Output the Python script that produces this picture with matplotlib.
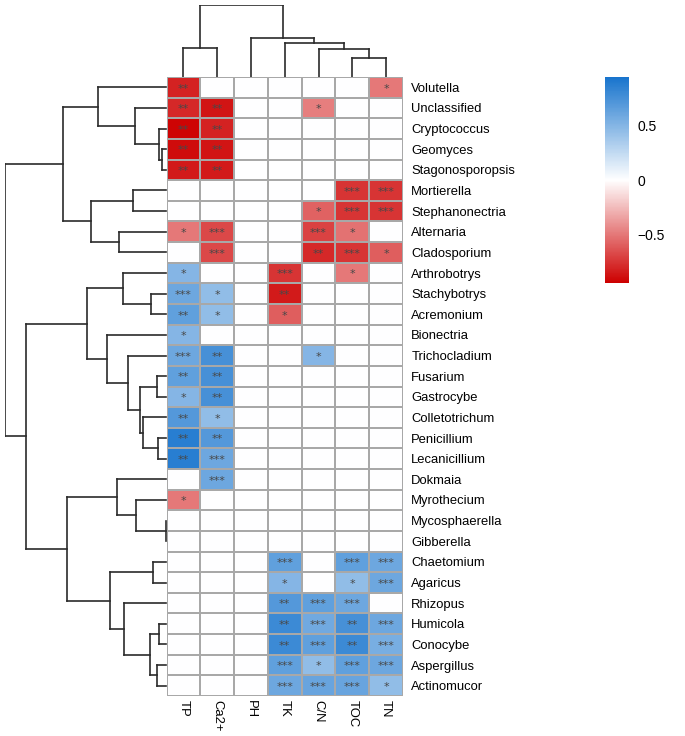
import numpy as np
import matplotlib
matplotlib.use("Agg")
import matplotlib.pyplot as plt
from matplotlib.colors import LinearSegmentedColormap

plt.rcParams['font.family'] = ['Liberation Sans', 'DejaVu Sans']

# ---------------- data ----------------
genera = ["Volutella", "Unclassified", "Cryptococcus", "Geomyces", "Stagonosporopsis",
          "Mortierella", "Stephanonectria", "Alternaria", "Cladosporium", "Arthrobotrys",
          "Stachybotrys", "Acremonium", "Bionectria", "Trichocladium", "Fusarium",
          "Gastrocybe", "Colletotrichum", "Penicillium", "Lecanicillium", "Dokmaia",
          "Myrothecium", "Mycosphaerella", "Gibberella", "Chaetomium", "Agaricus",
          "Rhizopus", "Humicola", "Conocybe", "Aspergillus", "Actinomucor"]
factors = ["TP", "Ca2+", "PH", "TK", "C/N", "TOC", "TN"]

# correlation values (non-significant shown as 0)
corr_TP  = [-0.82, -0.80, -0.93, -0.90, -0.85, 0, 0, -0.50, 0, 0.50,
            0.60, 0.65, 0.50, 0.60, 0.65, 0.50, 0.70, 0.88, 0.88, 0,
            -0.50, 0, 0, 0, 0, 0, 0, 0, 0, 0]
corr_Ca  = [0, -0.87, -0.82, -0.87, -0.85, 0, 0, -0.68, -0.68, 0,
            0.45, 0.45, 0, 0.75, 0.75, 0.75, 0.45, 0.70, 0.60, 0.60,
            0, 0, 0, 0, 0, 0, 0, 0, 0, 0]
corr_PH  = [0] * 30
corr_TK  = [0, 0, 0, 0, 0, 0, 0, 0, 0, -0.75,
            -0.85, -0.60, 0, 0, 0, 0, 0, 0, 0, 0,
            0, 0, 0, 0.65, 0.50, 0.70, 0.80, 0.80, 0.65, 0.60]
corr_CN  = [0, -0.48, 0, 0, 0, 0, -0.58, -0.70, -0.80, 0,
            0, 0, 0, 0.50, 0, 0, 0, 0, 0, 0,
            0, 0, 0, 0, 0, 0.65, 0.58, 0.65, 0.45, 0.62]
corr_TOC = [0, 0, 0, 0, 0, -0.75, -0.75, -0.52, -0.75, -0.50,
            0, 0, 0, 0, 0, 0, 0, 0, 0, 0,
            0, 0, 0, 0.65, 0.45, 0.60, 0.75, 0.80, 0.65, 0.62]
corr_TN  = [-0.50, 0, 0, 0, 0, -0.75, -0.75, 0, -0.60, 0,
            0, 0, 0, 0, 0, 0, 0, 0, 0, 0,
            0, 0, 0, 0.60, 0.60, 0, 0.60, 0.55, 0.60, 0.45]

sig_TP  = ["**", "**", "**", "**", "**", "", "", "*", "", "*",
           "***", "**", "*", "***", "**", "*", "**", "**", "**", "",
           "*", "", "", "", "", "", "", "", "", ""]
sig_Ca  = ["", "**", "**", "**", "**", "", "", "***", "***", "",
           "*", "*", "", "**", "**", "**", "*", "**", "***", "***",
           "", "", "", "", "", "", "", "", "", ""]
sig_PH  = [""] * 30
sig_TK  = ["", "", "", "", "", "", "", "", "", "***",
           "**", "*", "", "", "", "", "", "", "", "",
           "", "", "", "***", "*", "**", "**", "**", "***", "***"]
sig_CN  = ["", "*", "", "", "", "", "*", "***", "**", "",
           "", "", "", "*", "", "", "", "", "", "",
           "", "", "", "", "", "***", "***", "***", "*", "***"]
sig_TOC = ["", "", "", "", "", "***", "***", "*", "***", "*",
           "", "", "", "", "", "", "", "", "", "",
           "", "", "", "***", "*", "***", "**", "**", "***", "***"]
sig_TN  = ["*", "", "", "", "", "***", "***", "", "*", "",
           "", "", "", "", "", "", "", "", "", "",
           "", "", "", "***", "***", "", "***", "***", "***", "*"]

# hierarchical clustering merges: (child_a, child_b, height); ids >= n are earlier merges
row_merges = [(3, 4, 4), (2, 30, 7), (1, 31, 31), (0, 32, 68), (5, 6, 33), (7, 8, 47),
              (34, 35, 75), (33, 36, 103), (10, 11, 15), (9, 38, 43), (14, 15, 9),
              (17, 18, 8), (16, 41, 23), (40, 42, 26), (13, 43, 38), (12, 44, 59),
              (39, 45, 79), (21, 22, 0.5), (20, 47, 30), (19, 48, 49), (23, 24, 13),
              (26, 27, 7), (28, 29, 9), (51, 52, 16), (25, 53, 42), (50, 54, 56),
              (49, 55, 99), (46, 56, 140), (37, 57, 161)]
col_merges = [(5, 6, 19), (4, 7, 28), (3, 8, 34), (2, 9, 39), (0, 1, 29), (11, 10, 72)]

# ---------------- figure ----------------
W, H = 685, 736
fig = plt.figure(figsize=(W / 100, H / 100), dpi=100)

def fx(px):
    return px / W

def fy(py):
    return 1 - py / H

hm_l, hm_r, hm_t, hm_b = 166.5, 403, 77, 696
ax = fig.add_axes([fx(hm_l), fy(hm_b), fx(hm_r - hm_l), (hm_b - hm_t) / H])

M = np.array([corr_TP, corr_Ca, corr_PH, corr_TK, corr_CN, corr_TOC, corr_TN]).T
S = np.array([sig_TP, sig_Ca, sig_PH, sig_TK, sig_CN, sig_TOC, sig_TN]).T
nr, nc = M.shape

cmap = LinearSegmentedColormap.from_list("rwb", ["#CD0000", "#FFFFFF", "#1874CD"])
vmin, vmax = -0.95, 0.95
mesh = ax.pcolormesh(np.arange(nc + 1), np.arange(nr + 1), M, cmap=cmap,
                     vmin=vmin, vmax=vmax, edgecolors="#a8a8a8", linewidth=1.2)
ax.set_xlim(0, nc)
ax.set_ylim(nr, 0)
for i in range(nr):
    for j in range(nc):
        if S[i, j]:
            ax.text(j + 0.5, i + 0.56, S[i, j], ha="center", va="center",
                    fontsize=8, color="#484848", family="DejaVu Sans")
for s in ax.spines.values():
    s.set_visible(False)
ax.yaxis.tick_right()
ax.set_yticks(np.arange(nr) + 0.5)
ax.set_yticklabels(genera, fontsize=9.4)
ax.set_xticks(np.arange(nc) + 0.5)
ax.set_xticklabels(factors, fontsize=9.4, rotation=270, ha="center", va="top")
ax.tick_params(length=0, pad=6)
ax.tick_params(axis="x", pad=3)

# ---------------- dendrograms ----------------
def dendro_segments(merges, n):
    pos = {i: i + 0.5 for i in range(n)}
    hgt = {i: 0.0 for i in range(n)}
    segs = []
    for k, (a, b, h) in enumerate(merges):
        node = n + k
        segs.append(((pos[a], hgt[a]), (pos[a], h)))
        segs.append(((pos[b], hgt[b]), (pos[b], h)))
        segs.append(((pos[a], h), (pos[b], h)))
        pos[node] = (pos[a] + pos[b]) / 2
        hgt[node] = h
    return segs

lc = "#2b2b2b"
lw = 1.2
# row dendrogram (left)
rd_l = 5
axr = fig.add_axes([fx(rd_l), fy(hm_b), fx(hm_l - rd_l), (hm_b - hm_t) / H])
for (p0, h0), (p1, h1) in dendro_segments(row_merges, nr):
    axr.plot([h0, h1], [p0, p1], color=lc, lw=lw, solid_capstyle="projecting")
axr.set_xlim(row_merges[-1][2], 0)
axr.set_ylim(nr, 0)
axr.axis("off")

# column dendrogram (top)
cd_t = 5
axc = fig.add_axes([fx(hm_l), fy(hm_t), fx(hm_r - hm_l), (hm_t - cd_t) / H])
for (p0, h0), (p1, h1) in dendro_segments(col_merges, nc):
    axc.plot([p0, p1], [h0, h1], color=lc, lw=lw, solid_capstyle="projecting")
axc.set_xlim(0, nc)
axc.set_ylim(0, col_merges[-1][2])
axc.axis("off")

# ---------------- colorbar ----------------
cb_l, cb_r, cb_t, cb_b = 605, 629, 77, 283
cax = fig.add_axes([fx(cb_l), fy(cb_b), fx(cb_r - cb_l), (cb_b - cb_t) / H])
cb = fig.colorbar(mesh, cax=cax)
cb.outline.set_visible(False)
cb.set_ticks([-0.5, 0, 0.5])
cb.set_ticklabels(["\u22120.5", "0", "0.5"])
cax.tick_params(length=0, pad=6, labelsize=10)

fig.savefig("out.png", dpi=100)
